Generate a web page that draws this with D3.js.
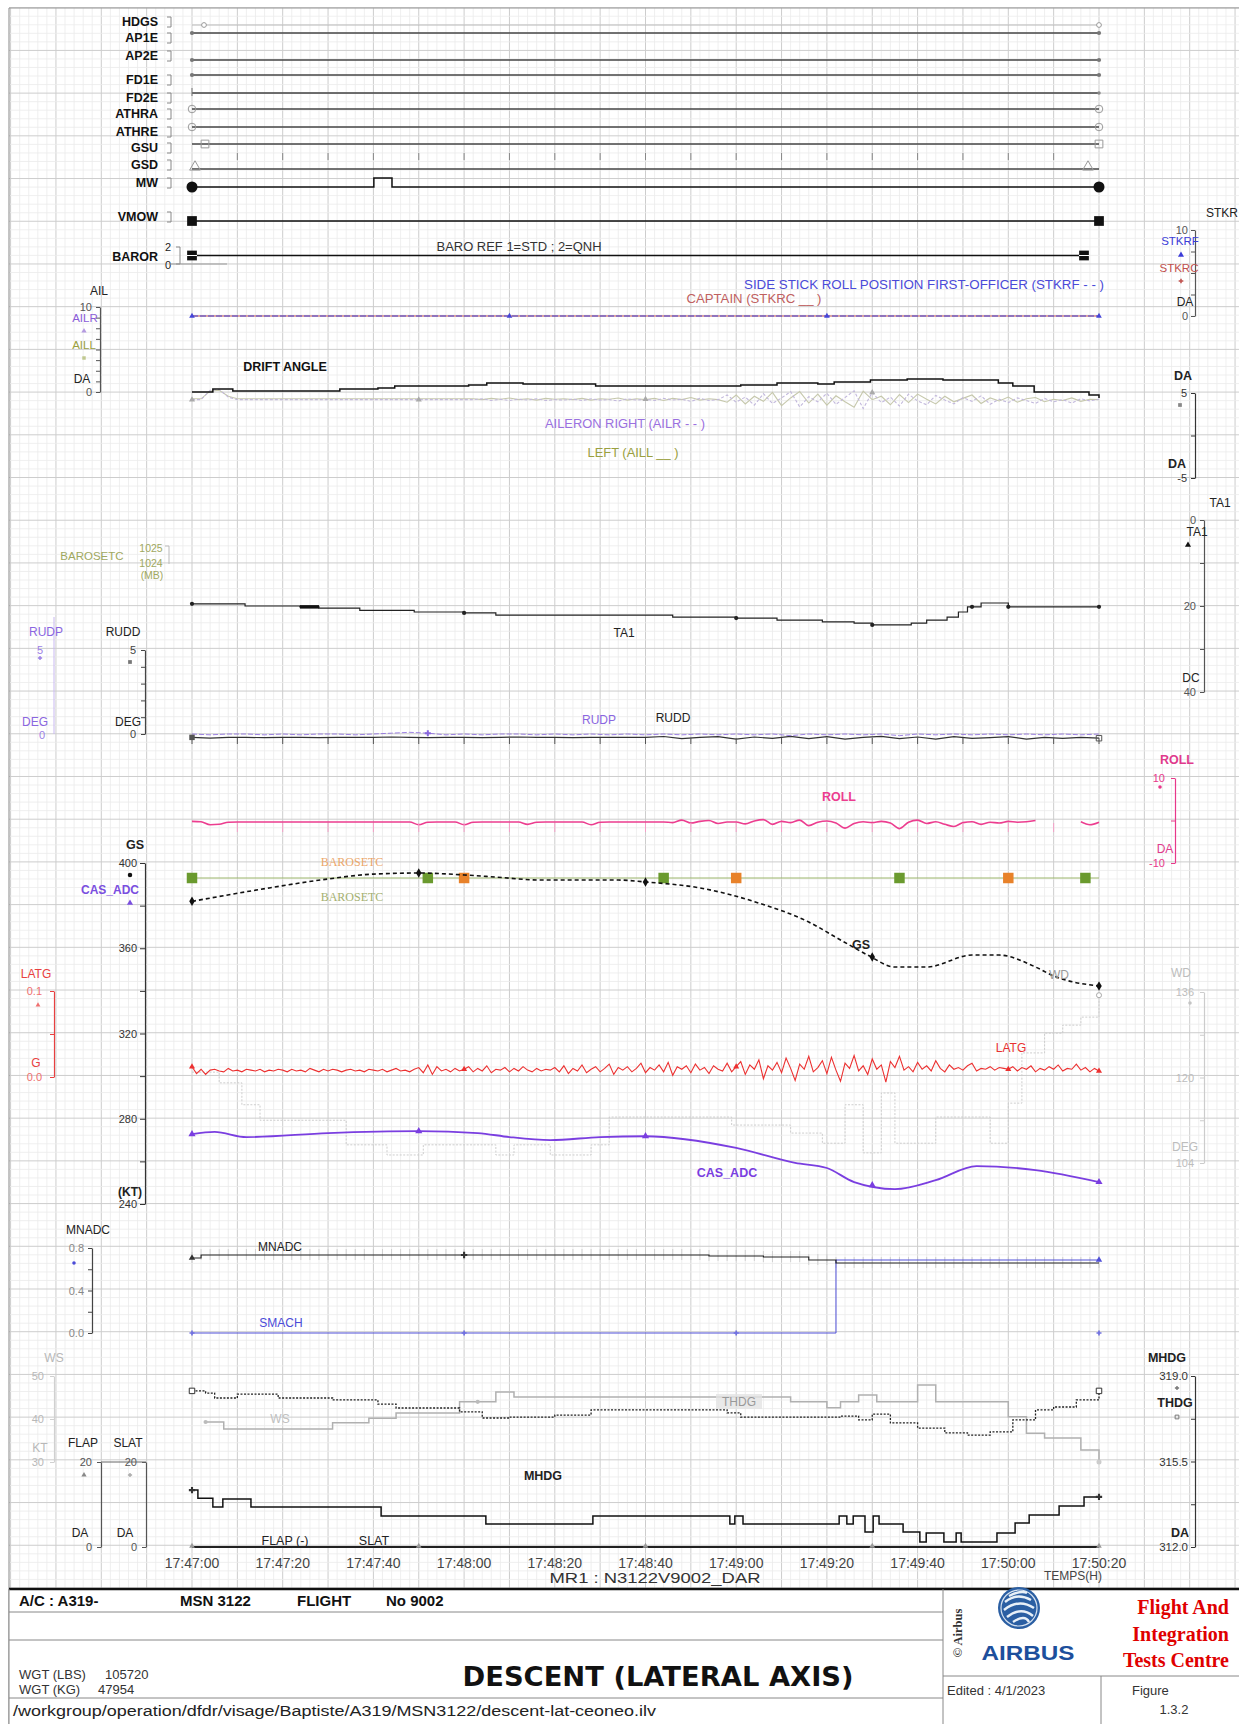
<!DOCTYPE html>
<html>
<head>
<meta charset="utf-8">
<script src="https://cdn.jsdelivr.net/npm/d3@7"></script>
<style>
  body { margin: 0; background: #fff; }
</style>
</head>
<body>
<svg id="chart" width="1239" height="1724"></svg>
<script>
// ---------------- time base ----------------
const timeTickSeconds = [0, 20, 40, 60, 80, 100, 120, 140, 160, 180, 200];
const timeTickLabels = ["17:47:00","17:47:20","17:47:40","17:48:00","17:48:20","17:48:40",
                        "17:49:00","17:49:20","17:49:40","17:50:00","17:50:20"];

// ---------------- discrete parameters ----------------
const discreteNames  = ["HDGS","AP1E","AP2E","FD1E","FD2E","ATHRA","ATHRE","GSU","GSD","MW","VMOW","BAROR"];
const discreteStates = [0, 0, 0, 0, 0, 0, 0, 0, 0, 0, 0, 1];
const mwTimes  = [0, 40.1, 44.1, 200];
const mwStates = [0, 1, 0, 0];

// ---------------- side stick / ailerons / drift ----------------
const stkrfDeg = [0, 0];
const stkrcDeg = [0, 0];
const stkTimes = [0, 200];

const ailStep = 2; // s between aileron samples
const ailrDeg = [-0.9,-0.9,0.2,0.3,-0.6,
  -0.9,-0.9,-0.9,-0.9,-0.9,-0.9,-0.9,-0.9,-0.9,-0.9,
  -0.9,-0.9,-0.9,-0.9,-0.9,-0.9,-0.9,-0.9,-0.9,-0.9,
  -0.9,-0.9,-0.9,-0.9,-0.9,-0.9,-0.9,
  -0.8,-1.0,-0.85,-1.0,-0.85,-0.95,-0.8,-1.0,-0.9,-0.95,
  -0.85,-1.0,-0.8,-0.95,-0.9,-1.05,-0.8,-0.95,-0.85,-1.0,
  -0.75,-0.95,-0.85,-1.1,-0.75,-1.0,-0.9,
  -0.35,-1.2,-0.6,-1.55,-0.2,-1.35,-0.7,0.05,-1.75,-0.55,
  -1.15,-0.15,-1.45,-0.65,0.15,-1.95,-0.05,-1.25,-0.6,-1.65,
  -0.25,-1.05,-1.5,-0.4,-0.95,-1.4,-0.65,-1.1,-0.45,-1.45,
  -0.85,-1.25,-0.7,-1.0,-1.35,-0.75,-1.15,-0.9,-1.3,-0.8,
  -1.05,-0.85];
const aillDeg = [-0.8,-0.8,0.1,0.2,-0.5,
  -0.8,-0.8,-0.8,-0.8,-0.8,-0.8,-0.8,-0.8,-0.8,-0.8,
  -0.8,-0.8,-0.8,-0.8,-0.8,-0.8,-0.8,-0.8,-0.8,-0.8,
  -0.8,-0.8,-0.8,-0.8,-0.8,-0.8,-0.8,
  -0.9,-0.75,-0.85,-0.7,-0.9,-0.8,-0.95,-0.75,-0.85,-0.8,
  -0.9,-0.75,-0.95,-0.8,-0.85,-0.7,-0.95,-0.8,-0.9,-0.75,
  -1.0,-0.75,-0.9,-0.65,-0.95,-0.8,-0.9,
  -1.2,-0.35,-1.4,-0.5,-1.1,-0.05,-1.6,-0.7,0.05,-1.3,
  -0.25,-1.55,-0.45,-1.15,-1.8,0.1,-0.9,-0.5,-1.5,-0.3,
  -1.25,-0.25,-0.85,-1.4,-0.5,-1.15,-0.75,-0.35,-1.35,-0.7,
  -1.05,-0.6,-1.2,-0.8,-0.65,-1.15,-0.85,-1.0,-0.7,-1.1,
  -0.85,-0.9];

const driftTimes = [0,4.6,9,32.6,41,44.7,61,65,73,89,121,129,138,141.6,149.6,157.7,165.6,177.8,181,185.7,197.8,200];
const driftDeg   = [5.12,5.47,5.24,5.47,5.59,5.82,5.94,6.18,6.06,5.82,5.94,6.18,6.06,6.29,6.53,6.65,6.53,6.18,5.82,5.12,4.76,4.41];

// ---------------- temperature / baro setting ----------------
const ta1Times = [0,11.7,23.8,28,37,49,60,67,106,120,129,139,146,150,155,158.6,162,166.5,169,171,174,180,200];
const ta1Deg   = [19.5,20.0,20.2,20.5,21.0,21.4,21.6,22.1,22.6,22.8,23.3,23.7,24.0,24.4,24.4,24.0,23.3,22.6,21.4,20.2,19.3,20.2,20.2];

const baroSetting = 1003;                 // mb, held during the run
const baroSampleTimesC = [0, 52, 104, 156, 197];
const baroSampleTimesF = [60, 120, 180];

// ---------------- rudder ----------------
const rudStep = 4;
const ruddDeg = [-0.2,-0.25,-0.2,-0.2,-0.22,-0.2,-0.2,-0.22,-0.2,-0.2,
  -0.2,-0.18,-0.2,-0.22,-0.2,-0.2,-0.22,-0.2,-0.18,-0.2,
  -0.2,-0.22,-0.2,-0.2,-0.2,-0.2,-0.15,-0.28,-0.2,-0.16,
  -0.3,-0.18,-0.26,-0.14,-0.28,-0.16,-0.3,-0.2,-0.14,-0.28,
  -0.18,-0.3,-0.16,-0.26,-0.22,-0.16,-0.3,-0.2,-0.26,-0.2,
  -0.25];
const rudpDeg = [0.0,-0.05,0.0,0.0,-0.05,0.0,-0.05,0.0,0.0,-0.05,
  0.0,0.05,0.1,0.05,-0.05,0.0,-0.05,0.0,0.0,-0.05,
  0.0,-0.05,0.0,-0.05,0.0,-0.05,0.0,-0.05,0.0,-0.05,
  0.0,-0.05,0.0,-0.1,0.0,-0.05,0.0,-0.05,0.0,-0.1,
  0.0,-0.05,0.0,-0.05,0.0,-0.05,0.0,-0.05,0.0,-0.05,
  0.0];

// ---------------- roll ----------------
const rollStep = 2;
const rollDeg = [-0.2,-0.3,-1.0,-0.9,-0.4,
  -0.35,-0.35,-0.35,-0.35,-0.35,-0.35,-0.35,-0.35,-0.35,-0.35,
  -0.35,-0.35,-0.35,-0.35,-0.35,-0.35,-0.35,-0.35,-0.35,-0.35,
  -1.0,-0.4,-0.35,-0.35,-0.35,-1.0,-0.4,
  -0.35,-0.35,-0.35,-0.35,-0.35,-0.9,-0.4,
  -0.35,-0.35,-0.35,-0.35,-0.35,-1.0,-0.4,
  -0.35,-0.35,-0.35,-0.35,-0.35,-0.35,-0.35,
  -0.5,0.1,-0.6,-0.2,0.0,-0.7,-0.35,-0.35,-0.8,-0.1,
  0.2,-0.9,-0.2,-0.5,0.1,-1.2,-0.4,-0.1,-0.6,-1.8,
  -0.7,-0.3,-0.5,-0.2,-0.6,-1.9,-0.4,0.1,-0.7,-0.3,
  -0.9,-1.4,-0.5,-0.3,-0.9,-0.4,-0.6,-0.2,-0.4,-0.3,
  0.0,null,null,null,null,-0.3,-1.0,-0.4];

// ---------------- speeds ----------------
const gsTimes = [0,17,30,40,50,60,67,77,94,100,112,125,136,143,149,155,162,172,178,186,190,200];
const gsKnots = [382,388.3,392.5,394.8,395.3,394.4,393.4,392,392,391.1,388.3,381.2,372.3,363.9,356.8,351.2,351.2,356.8,356.8,351.2,347,342.3];

const casTimes = [0,5,12,30,50,63,70,79,90,100,120,133,140,146,155,164,173,186,200];
const casKnots = [272.8,273.8,271.4,273.3,274.2,273.3,271.4,270,271.4,271.8,266.3,259.3,256.9,250.3,247,251.2,257.8,255.9,250.3];

// lateral load factor, milli-g, one sample per second
const latgMilliG = [
  12,4,9,3,8,9,7,6,10,7,8,6,9,8,7,9,6,8,7,9,
  8,6,9,7,8,6,10,8,6,9,7,9,8,6,8,9,7,8,6,9,
  8,7,9,6,8,10,7,8,6,9,11,5,14,3,12,7,9,6,10,7,
  9,12,6,10,7,13,5,9,8,11,6,10,7,12,8,6,10,7,9,8,
  11,6,13,4,10,7,14,5,9,12,6,10,15,3,11,8,12,6,10,16,
  5,11,8,14,6,17,2,12,9,13,5,15,8,11,4,13,9,7,16,6,
  12,18,3,14,9,20,-2,13,8,17,5,22,10,-4,15,9,24,6,11,19,
  4,23,8,-5,16,10,25,7,13,3,21,9,14,-6,18,11,24,8,12,6,
  17,9,13,7,19,10,6,14,9,11,8,13,16,7,10,9,12,8,11,10,
  9,12,7,11,9,13,6,10,8,12,9,14,7,10,9,15,8,11,6,10,7];

const wdTimes = [0,6,11,15,34,43,51,67,71,79,88,92,111,119,132,139,144,148,152,155,164,173,176,180,183,188,192,196,200];
const wdDeg   = [121,119,114.9,112,107.4,105.5,107.4,105.5,107.4,105.5,107.4,112.6,112.6,111.1,109.6,107.7,114.9,105.9,117.1,107.7,112.6,112.6,107.7,115.2,124.6,128.3,129.8,131.3,135.4];

// ---------------- mach ----------------
const mnadcTimes = [0,2,114,126,136,142,200];
const mnadcMach  = [0.706,0.734,0.725,0.715,0.687,0.659,0.659];
const smachTimes = [0,142,200];
const smachMach  = [0,0.687,0.687];

// ---------------- wind speed / headings / high lift ----------------
const wsTimes = [3,7,31,39,45,59,67,71,132,140,143,147,151,160,164,176,180,184,188,196,200];
const wsKnots = [39.3,37.7,39.1,40.2,41.4,44.0,46.3,45.1,44.0,42.6,44.0,45.6,44.0,47.9,44.0,44.0,40.5,36.7,35.6,32.8,30.0];

const thdgTimes = [0,3,5,10,19,31,41,45,59,64,70,80,88,94,118,121,143,147,150,154,160,166,171,176,181,186,190,195,200];
const thdgDeg   = [318.39,318.3,318.1,318.26,318.1,318.02,317.85,317.69,317.53,317.28,317.32,317.4,317.61,317.61,317.49,317.32,317.36,317.2,317.44,317.08,316.87,316.67,316.58,316.71,317.2,317.61,317.73,318.02,318.39];

const mhdgTimes = [0,1.3,4.6,6.8,13,41.7,64.8,88.4,118.6,119.7,121.5,142.7,144.4,145.8,148.4,150.2,151.5,156.8,160.5,161.9,165.8,168.5,169.6,177.5,181.5,184.6,191.2,196.7,200];
const mhdgDeg   = [314.33,314.0,313.64,313.97,313.64,313.27,312.94,313.27,312.94,313.27,312.94,313.27,312.94,313.27,312.61,313.27,312.94,312.61,312.2,312.57,312.2,312.57,312.2,312.57,312.98,313.31,313.68,314.05,314.05];

const flapTimes = [0, 200];
const flapDeg = [0, 0];
const slatDeg = [0, 0];

// ---------------- drawing ----------------
const FONT = '"Liberation Sans", Arial, sans-serif';
const svg = d3.select("#chart");
const x = d3.scaleLinear().domain([0, 200]).range([192, 1099]);

function label(xp, yp, s, o = {}) {
  const t = svg.append("text")
    .attr("x", xp).attr("y", yp).attr("dy", "0.35em")
    .attr("text-anchor", o.anchor || "middle")
    .attr("font-size", o.size || 11)
    .attr("font-weight", o.weight || "normal")
    .attr("fill", o.fill || "#222")
    .attr("font-family", o.family || FONT)
    .text(s);
  if (o.len) t.attr("textLength", o.len).attr("lengthAdjust", "spacingAndGlyphs");
  return t;
}

function series(times, vals, yScale, o = {}) {
  const pts = d3.zip(times, vals);
  const line = d3.line()
    .defined(d => d[1] !== null)
    .x(d => x(d[0])).y(d => yScale(d[1]))
    .curve(o.curve || d3.curveLinear);
  svg.append("path").datum(pts)
    .attr("d", line)
    .attr("fill", "none")
    .attr("stroke", o.color || "#000")
    .attr("stroke-width", o.width || 1.2)
    .attr("stroke-dasharray", o.dash || null)
    .attr("opacity", o.opacity || 1);
}

function marker(type, xp, yp, o = {}) {
  svg.append("path")
    .attr("d", d3.symbol().type(type).size(o.size || 20)())
    .attr("transform", `translate(${xp},${yp})`)
    .attr("fill", o.fill === undefined ? "#000" : o.fill)
    .attr("stroke", o.stroke || "none")
    .attr("stroke-width", o.sw || 1);
}

function vAxis(xPos, scale, ticks, fmt, color, o = {}) {
  const g = svg.append("g")
    .attr("transform", `translate(${xPos},0)`)
    .attr("font-family", FONT)
    .call(d3.axisLeft(scale).tickValues(ticks).tickFormat(fmt)
      .tickSize(o.tick || 4).tickSizeOuter(0).tickPadding(o.pad || 2));
  g.select(".domain").attr("stroke", color).attr("stroke-width", o.width || 1.2);
  g.selectAll(".tick line").attr("stroke", color);
  g.selectAll(".tick text").attr("fill", o.textColor || color).attr("font-size", o.size || 11);
  return g;
}

// ---- background grid (10 s major columns, 2 s minor) ----
const grid = svg.append("g");
const gridTop = 7.7, gridBottom = 1588, rowMajor = 42.71;
d3.range(-40, 232, 2).forEach(t => {
  const major = t % 10 === 0;
  grid.append("line").attr("x1", x(t)).attr("x2", x(t))
    .attr("y1", gridTop).attr("y2", gridBottom)
    .attr("stroke", major ? "#cdcdcd" : "#ebebeb").attr("stroke-width", major ? 1 : 0.8);
});
d3.range(0, 186).forEach(i => {
  const yy = gridTop + i * rowMajor / 5;
  const major = i % 5 === 0;
  grid.append("line").attr("x1", 9).attr("x2", 1239)
    .attr("y1", yy).attr("y2", yy)
    .attr("stroke", major ? "#cdcdcd" : "#ebebeb").attr("stroke-width", major ? 1 : 0.8);
});
// frame
svg.append("line").attr("x1", 9).attr("x2", 1239).attr("y1", 8).attr("y2", 8).attr("stroke", "#999");
svg.append("line").attr("x1", 9).attr("x2", 9).attr("y1", 8).attr("y2", 1724).attr("stroke", "#888");

// ---- discrete lanes ----
const laneBase  = [25, 33, 60, 75, 93, 109, 127, 144, 169, 187, 221, 264];
const laneLabel = [22, 38, 56, 80, 98, 114, 132, 148, 165, 183, 217, 257];
discreteNames.forEach((name, i) => {
  const span = name === "BAROR" ? 2 : 1;
  const yLane = d3.scaleLinear().domain([0, span]).range([laneBase[i], laneBase[i] - (name === "BAROR" ? 17 : 9)]);
  const isMW = name === "MW";
  const times = isMW ? mwTimes : [0, 200];
  const vals = isMW ? mwStates : [discreteStates[i], discreteStates[i]];
  const heavy = ["MW", "VMOW", "BAROR"].includes(name);
  const endT = name === "BAROR" ? 197 : 200;
  series(isMW ? times : [0, endT], vals, yLane, {
    curve: d3.curveStepAfter,
    color: name === "HDGS" ? "#aaa" : (heavy ? "#111" : "#444"),
    width: name === "HDGS" ? 0.8 : (heavy ? 1.5 : 1.6)
  });
  label(158, laneLabel[i], name, { anchor: "end", size: 12.5, weight: "bold", fill: "#111" });
  if (name !== "BAROR") {
    svg.append("path").attr("d", `M167,${laneLabel[i] - 5}H171V${laneLabel[i] + 5}H167`)
      .attr("fill", "none").attr("stroke", "#888").attr("stroke-width", 1);
  }
  const yl = yLane(discreteStates[i]);
  const x0 = x(0), x1 = x(endT);
  switch (name) {
    case "HDGS":
      marker(d3.symbolCircle, 204, yl, { size: 18, fill: "#fff", stroke: "#999" });
      marker(d3.symbolCircle, x1, yl, { size: 18, fill: "#fff", stroke: "#999" }); break;
    case "AP1E": case "AP2E": case "FD1E":
      marker(d3.symbolCircle, x0, yl, { size: 14, fill: "#777" });
      marker(d3.symbolCircle, x1, yl, { size: 14, fill: "#777" }); break;
    case "FD2E":
      svg.append("line").attr("x1", x0).attr("x2", x0).attr("y1", yl - 5).attr("y2", yl + 3).attr("stroke", "#777");
      marker(d3.symbolCircle, x1, yl, { size: 10, fill: "#888" }); break;
    case "ATHRA": case "ATHRE":
      marker(d3.symbolCircle, x0, yl, { size: 45, fill: "none", stroke: "#999" });
      marker(d3.symbolCircle, x1, yl, { size: 45, fill: "none", stroke: "#999" }); break;
    case "GSU":
      marker(d3.symbolSquare, 205, yl, { size: 60, fill: "none", stroke: "#999" });
      marker(d3.symbolSquare, x1, yl, { size: 60, fill: "none", stroke: "#999" }); break;
    case "GSD":
      marker(d3.symbolTriangle, 195, yl - 2, { size: 50, fill: "none", stroke: "#999" });
      marker(d3.symbolTriangle, 1088, yl - 2, { size: 50, fill: "none", stroke: "#999" }); break;
    case "MW":
      marker(d3.symbolCircle, x0, yl, { size: 95, fill: "#111" });
      marker(d3.symbolCircle, x1, yl, { size: 95, fill: "#111" }); break;
    case "VMOW":
      marker(d3.symbolSquare, x0, yl, { size: 95, fill: "#111" });
      marker(d3.symbolSquare, x1, yl, { size: 95, fill: "#111" }); break;
    case "BAROR":
      [x0, 1084].forEach(xx => {
        marker(d3.symbolSquare, xx, yl, { size: 95, fill: "#111" });
        svg.append("line").attr("x1", xx - 5).attr("x2", xx + 5).attr("y1", yl).attr("y2", yl).attr("stroke", "#fff").attr("stroke-width", 1);
      });
      label(168, 247, "2", { size: 11 });
      label(168, 265, "0", { size: 11 });
      svg.append("path").attr("d", "M176,247H180V264H176").attr("fill", "none").attr("stroke", "#888");
      svg.append("line").attr("x1", 170).attr("x2", 227).attr("y1", 264).attr("y2", 264).attr("stroke", "#999");
      break;
  }
});
// time marks in the discrete block
d3.range(10, 200, 10).forEach(t => {
  svg.append("line").attr("x1", x(t)).attr("x2", x(t)).attr("y1", 153).attr("y2", 160).attr("stroke", "#888");
});
label(519, 247, "BARO REF 1=STD ; 2=QNH", { size: 12.5, fill: "#333", len: 165 });

// ---- side stick roll ----
const ySTKR = d3.scaleLinear().domain([0, 10]).range([316, 230]);
vAxis(1195, ySTKR, d3.range(0, 10.01, 2.5), d => (d === 0 || d === 10) ? d : "", "#555", { pad: 3 });
label(1222, 213, "STKR", { size: 12 });
label(1180, 241, "STKRF", { size: 11.5, fill: "#3c3cd8" });
marker(d3.symbolTriangle, 1181, 255, { size: 16, fill: "#3c3cd8" });
label(1179, 268, "STKRC", { size: 11.5, fill: "#c0504d" });
marker(d3.symbolCross, 1181, 281, { size: 12, fill: "#c0504d" });
label(1185, 302, "DA", { size: 12 });
series(stkTimes, stkrcDeg, ySTKR, { color: "#c0504d", width: 1.2 });
series(stkTimes, stkrfDeg, ySTKR, { color: "#4545d8", width: 1.2, dash: "6,2" });
[0, 70, 140, 200].forEach(t => marker(d3.symbolTriangle, x(t), ySTKR(0), { size: 14, fill: "#4545d8" }));
label(924, 285, "SIDE STICK ROLL POSITION FIRST-OFFICER (STKRF - - )", { size: 12, fill: "#4a4ad8", len: 360 });
label(754, 299, "CAPTAIN (STKRC __ )", { size: 12, fill: "#c06060", len: 135 });

// ---- ailerons (left axis) ----
const yAIL = d3.scaleLinear().domain([0, 10]).range([392, 307]);
vAxis(100, yAIL, d3.range(0, 10.01, 1.25), d => (d === 0 || d === 10) ? d : "", "#555", { pad: 4 });
label(99, 291, "AIL", { size: 12 });
label(85, 318, "AILR", { size: 11.5, fill: "#8a5cd8" });
marker(d3.symbolTriangle, 84, 331, { size: 12, fill: "#b49ae0" });
label(84, 345, "AILL", { size: 11.5, fill: "#9aa040" });
marker(d3.symbolSquare, 84, 358, { size: 12, fill: "#c0c890" });
label(82, 379, "DA", { size: 12 });
const ailTimes = d3.range(ailrDeg.length).map(i => i * ailStep);
series(ailTimes, aillDeg, yAIL, { color: "#c6c8ac", width: 1.1 });
series(ailTimes, ailrDeg, yAIL, { color: "#c2b8dc", width: 1.1, dash: "3,2" });
[0, 50, 100, 150].forEach(t => marker(d3.symbolTriangle, x(t), yAIL(ailrDeg[t / ailStep]), { size: 16, fill: "#aaa" }));
label(625, 424, "AILERON RIGHT (AILR - - )", { size: 12, fill: "#9a70e0", len: 160 });
label(633, 453, "LEFT (AILL __ )", { size: 12, fill: "#9aa040", len: 91 });

// ---- drift angle (right axis) ----
const yDA = d3.scaleLinear().domain([-5, 5]).range([478, 393]);
vAxis(1195, yDA, [-5, 0, 5], d => d === 0 ? "" : d, "#333", { pad: 4, size: 11 });
label(1183, 376, "DA", { size: 12.5, weight: "bold" });
marker(d3.symbolSquare, 1180, 405, { size: 14, fill: "#888" });
label(1177, 464, "DA", { size: 12.5, weight: "bold" });
series(driftTimes, driftDeg, yDA, { curve: d3.curveStepAfter, color: "#111", width: 1.5 });
label(285, 367, "DRIFT ANGLE", { size: 12.5, weight: "bold", fill: "#111" });

// ---- total air temperature (right axis) ----
const yTA1 = d3.scaleLinear().domain([0, 40]).range([520, 692]);
vAxis(1204, yTA1, [0, 10, 20, 30, 40], d => d % 20 === 0 ? d : "", "#555", { pad: 4 });
label(1220, 503, "TA1", { size: 12 });
label(1197, 532, "TA1", { size: 12 });
marker(d3.symbolTriangle, 1188, 545, { size: 16, fill: "#111" });
label(1191, 678, "DC", { size: 12 });
series(ta1Times, ta1Deg, yTA1, { curve: d3.curveStepAfter, color: "#222", width: 1.2 });
svg.append("line").attr("x1", x(23.8)).attr("x2", x(28)).attr("y1", yTA1(20.2)).attr("y2", yTA1(20.2))
  .attr("stroke", "#111").attr("stroke-width", 3.5);
[0, 60, 120, 150, 172, 180, 200].forEach(t => {
  const i = d3.bisectRight(ta1Times, t) - 1;
  marker(d3.symbolCircle, x(t), yTA1(ta1Deg[Math.max(0, i)]), { size: 14, fill: "#222" });
});
label(624, 633, "TA1", { size: 12 });

// ---- baro setting (left small scale) ----
const yBaro = d3.scaleLinear().domain([1024, 1025]).range([563, 548]);
label(92, 556, "BAROSETC", { size: 11.5, fill: "#a0a860" });
label(151, 548, "1025", { size: 10.5, fill: "#a0a860" });
label(151, 563, "1024", { size: 10.5, fill: "#a0a860" });
label(152, 575, "(MB)", { size: 10.5, fill: "#a0a860" });
svg.append("path").attr("d", "M165,546H169V564").attr("fill", "none").attr("stroke", "#bbb");

// ---- rudder ----
const yRUD = d3.scaleLinear().domain([0, 5]).range([734, 650]);
vAxis(145, yRUD, d3.range(0, 5.01, 1), d => (d === 0 || d === 5) ? d : "", "#444", { pad: 5 });
svg.append("line").attr("x1", 54).attr("x2", 54).attr("y1", 617).attr("y2", 734).attr("stroke", "#c8b8f0");
label(46, 632, "RUDP", { size: 12, fill: "#8a66e0" });
label(123, 632, "RUDD", { size: 12 });
label(40, 650, "5", { size: 11, fill: "#9b7fe6" });
marker(d3.symbolCross, 40, 658, { size: 10, fill: "#9b7fe6" });
marker(d3.symbolSquare, 130, 662, { size: 14, fill: "#777" });
label(35, 722, "DEG", { size: 12, fill: "#8a66e0" });
label(128, 722, "DEG", { size: 12 });
label(42, 735, "0", { size: 11, fill: "#9b7fe6" });
const rudTimes = d3.range(ruddDeg.length).map(i => i * rudStep);
series(rudTimes, ruddDeg, yRUD, { color: "#333", width: 1.2 });
series(rudTimes, rudpDeg, yRUD, { color: "#8866dd", width: 1, dash: "5,2", opacity: 0.8 });
d3.range(0, 201, 10).forEach(t => {
  svg.append("line").attr("x1", x(t)).attr("x2", x(t)).attr("y1", 738).attr("y2", 744).attr("stroke", "#555");
});
marker(d3.symbolSquare, x(0), yRUD(ruddDeg[0]), { size: 30, fill: "#555" });
marker(d3.symbolSquare, x(200), yRUD(ruddDeg[50]), { size: 30, fill: "none", stroke: "#555" });
marker(d3.symbolCross, x(52), yRUD(rudpDeg[13]), { size: 20, fill: "#8866dd" });
label(599, 720, "RUDP", { size: 12, fill: "#8a66e0" });
label(673, 718, "RUDD", { size: 12 });

// ---- roll (right axis) ----
const yRoll = d3.scaleLinear().domain([-10, 10]).range([863, 778]);
vAxis(1175, yRoll, [-10, 0, 10], d => d === 0 ? "" : d, "#e8388a", { pad: 6 });
label(1177, 760, "ROLL", { size: 12.5, weight: "bold", fill: "#e03a8c" });
marker(d3.symbolCircle, 1160, 787, { size: 10, fill: "#e8388a" });
label(1165, 849, "DA", { size: 12, fill: "#e03a8c" });
const rollTimes = d3.range(rollDeg.length).map(i => i * rollStep);
series(rollTimes, rollDeg, yRoll, { color: "#ec3d8f", width: 1.6, curve: d3.curveMonotoneX });
d3.range(10, 200, 10).forEach(t => {
  svg.append("line").attr("x1", x(t)).attr("x2", x(t)).attr("y1", 823).attr("y2", 832).attr("stroke", "#f5a0c8");
});
label(839, 797, "ROLL", { size: 12.5, weight: "bold", fill: "#ec3d8f" });

// ---- ground speed / calibrated airspeed ----
const yGS = d3.scaleLinear().domain([240, 400]).range([1204, 863]);
vAxis(145, yGS, d3.range(240, 401, 20), d => d % 40 === 0 ? d : "", "#333", { pad: 3, tick: 5 });
label(135, 845, "GS", { size: 12.5, weight: "bold" });
marker(d3.symbolCircle, 130, 875, { size: 16, fill: "#111" });
label(110, 890, "CAS_ADC", { size: 12, weight: "bold", fill: "#7a4ee0" });
marker(d3.symbolTriangle, 130, 903, { size: 16, fill: "#7a4ee0" });
label(130, 1192, "(KT)", { size: 12, weight: "bold" });

// baro setting samples on the common green trace
svg.append("line").attr("x1", x(0)).attr("x2", x(200)).attr("y1", yBaro(baroSetting)).attr("y2", yBaro(baroSetting))
  .attr("stroke", "#9bb56a").attr("stroke-width", 1);
baroSampleTimesC.forEach(t => marker(d3.symbolSquare, x(t), yBaro(baroSetting), { size: 110, fill: "#6a9a2e" }));
baroSampleTimesF.forEach(t => marker(d3.symbolSquare, x(t), yBaro(baroSetting), { size: 110, fill: "#e8822a" }));
label(352, 862, "BAROSETC", { size: 12, fill: "#eba66a", family: '"Liberation Serif", serif' });
label(352, 897, "BAROSETC", { size: 12, fill: "#a4b070", family: '"Liberation Serif", serif' });

// wind direction (right axis, light grey)
const yWD = d3.scaleLinear().domain([104, 136]).range([1163, 992]);
vAxis(1204, yWD, [104, 112, 120, 128, 136], d => d % 16 === 8 ? d : "", "#cccccc", { pad: 6, textColor: "#bdbdbd" });
label(1181, 973, "WD", { size: 12, fill: "#bdbdbd" });
marker(d3.symbolCircle, 1190, 1003, { size: 10, fill: "#c4c4c4" });
label(1185, 1147, "DEG", { size: 12, fill: "#bdbdbd" });
series(wdTimes, wdDeg, yWD, { curve: d3.curveStepAfter, color: "#cdcdcd", width: 1, dash: "2,1.5" });
marker(d3.symbolCircle, x(200), yWD(wdDeg[wdDeg.length - 1]), { size: 20, fill: "#fff", stroke: "#aaa" });

series(casTimes, casKnots, yGS, { curve: d3.curveMonotoneX, color: "#7a3ee0", width: 1.8 });
[0, 50, 100, 150, 200].forEach(t => {
  const v = d3.scaleLinear().domain(casTimes).range(casKnots)(t);
  marker(d3.symbolTriangle, x(t), yGS(v), { size: 22, fill: "#7a3ee0" });
});
series(gsTimes, gsKnots, yGS, { curve: d3.curveMonotoneX, color: "#111", width: 1.6, dash: "4,3" });
[0, 50, 100, 150, 200].forEach(t => {
  const v = d3.scaleLinear().domain(gsTimes).range(gsKnots)(t);
  marker(d3.symbolDiamond, x(t), yGS(v), { size: 26, fill: "#111" });
});
label(861, 945, "GS", { size: 12.5, weight: "bold" });
label(1059, 975, "WD", { size: 12, fill: "#999" });
label(727, 1173, "CAS_ADC", { size: 12.5, weight: "bold", fill: "#7a3ee0" });

// lateral load factor (left axis)
const yLatg = d3.scaleLinear().domain([0, 100]).range([1077, 991]);
vAxis(54, yLatg, [0, 50, 100], d => d === 50 ? "" : (d / 1000).toFixed(1), "#e84040", { pad: 8, textColor: "#f07070" });
label(36, 974, "LATG", { size: 12, fill: "#e84040" });
marker(d3.symbolTriangle, 38, 1005, { size: 10, fill: "#f07070" });
label(36, 1063, "G", { size: 12, fill: "#e84040" });
const latgTimes = d3.range(latgMilliG.length);
series(latgTimes, latgMilliG, yLatg, { color: "#ec3030", width: 1.1 });
[0, 60, 120, 180, 200].forEach(t => marker(d3.symbolTriangle, x(t), yLatg(latgMilliG[t]), { size: 16, fill: "#ec3030" }));
label(1011, 1048, "LATG", { size: 12, fill: "#e83030" });

// ---- Mach ----
const yMach = d3.scaleLinear().domain([0, 0.8]).range([1333, 1248]);
vAxis(92, yMach, [0, 0.2, 0.4, 0.6, 0.8], d => (d * 10) % 4 === 0 ? d.toFixed(1) : "", "#444", { pad: 4, textColor: "#888" });
label(88, 1230, "MNADC", { size: 12 });
marker(d3.symbolCircle, 74, 1263, { size: 10, fill: "#4b4bd8" });
d3.range(0, 201, 2).forEach(t => {
  const i = d3.bisectRight(mnadcTimes, t) - 1;
  const yy = yMach(mnadcMach[Math.max(0, i)]);
  svg.append("line").attr("x1", x(t)).attr("x2", x(t)).attr("y1", yy - 6).attr("y2", yy + 5).attr("stroke", "#c8c8c8").attr("stroke-width", 0.8);
});
series(smachTimes, smachMach, yMach, { curve: d3.curveStepAfter, color: "#5050d8", width: 1 });
series(mnadcTimes, mnadcMach, yMach, { curve: d3.curveStepAfter, color: "#222", width: 1.1 });
[0, 60, 120, 200].forEach(t => marker(d3.symbolCross, x(t), yMach(0), { size: 14, fill: "#7070e0" }));
marker(d3.symbolTriangle, x(0), yMach(mnadcMach[0]), { size: 18, fill: "#333" });
marker(d3.symbolCross, x(60), yMach(mnadcMach[1]), { size: 22, fill: "#333" });
marker(d3.symbolTriangle, x(200), yMach(smachMach[2]), { size: 18, fill: "#5050d8" });
label(280, 1247, "MNADC", { size: 12 });
label(281, 1323, "SMACH", { size: 12, fill: "#4b4bd8" });

// ---- wind speed (left axis, grey) ----
const yWS = d3.scaleLinear().domain([30, 50]).range([1462, 1376]);
vAxis(54, yWS, [30, 40, 50], d => d, "#d0d0d0", { pad: 6, textColor: "#b8b8b8" });
label(54, 1358, "WS", { size: 12, fill: "#b8b8b8" });
label(40, 1448, "KT", { size: 12, fill: "#b8b8b8" });
series(wsTimes, wsKnots, yWS, { curve: d3.curveStepAfter, color: "#b0b0b0", width: 1.5 });
marker(d3.symbolCircle, x(wsTimes[0]), yWS(wsKnots[0]), { size: 14, fill: "#bbb" });
marker(d3.symbolCircle, x(63), yWS(44.0), { size: 14, fill: "#bbb" });
marker(d3.symbolCircle, x(200), yWS(wsKnots[wsKnots.length - 1]), { size: 20, fill: "#ccc" });
label(280, 1419, "WS", { size: 12, fill: "#c0c0c0" });

// ---- headings (right axis) ----
const yHdg = d3.scaleLinear().domain([312, 319]).range([1547, 1376]);
vAxis(1195, yHdg, [312, 313.75, 315.5, 317.25, 319], d => (d === 312 || d === 315.5 || d === 319) ? d.toFixed(1) : "", "#333", { pad: 3, size: 11.5 });
label(1167, 1358, "MHDG", { size: 12.5, weight: "bold" });
marker(d3.symbolCross, 1177, 1388, { size: 10, fill: "#777" });
label(1175, 1403, "THDG", { size: 12.5, weight: "bold" });
marker(d3.symbolSquare, 1177, 1417, { size: 14, fill: "none", stroke: "#777" });
label(1180, 1533, "DA", { size: 12.5, weight: "bold" });
series(thdgTimes, thdgDeg, yHdg, { curve: d3.curveStepAfter, color: "#222", width: 1.3, dash: "2,1.5" });
marker(d3.symbolSquare, x(0), yHdg(thdgDeg[0]), { size: 30, fill: "#fff", stroke: "#333" });
marker(d3.symbolSquare, x(200), yHdg(thdgDeg[thdgDeg.length - 1]), { size: 30, fill: "#fff", stroke: "#333" });
series(mhdgTimes, mhdgDeg, yHdg, { curve: d3.curveStepAfter, color: "#111", width: 1.5 });
marker(d3.symbolCross, x(0), yHdg(mhdgDeg[0]), { size: 22, fill: "#333" });
marker(d3.symbolCross, x(200), yHdg(mhdgDeg[mhdgDeg.length - 1]), { size: 22, fill: "#333" });
svg.append("rect").attr("x", 716).attr("y", 1394).attr("width", 46).attr("height", 15).attr("fill", "#e4e4e4").attr("opacity", 0.8);
label(739, 1402, "THDG", { size: 12, fill: "#999" });
label(543, 1476, "MHDG", { size: 12.5, weight: "bold" });

// ---- flap / slat ----
const yFlap = d3.scaleLinear().domain([0, 20]).range([1547, 1462]);
vAxis(101, yFlap, [0, 20], d => d, "#555", { pad: 5 });
vAxis(146, yFlap, [0, 20], d => d, "#555", { pad: 5 });
svg.append("line").attr("x1", 101).attr("x2", 146).attr("y1", 1462).attr("y2", 1462).attr("stroke", "#666");
label(83, 1443, "FLAP", { size: 12 });
label(128, 1443, "SLAT", { size: 12 });
marker(d3.symbolTriangle, 84, 1475, { size: 12, fill: "#888" });
marker(d3.symbolCross, 130, 1475, { size: 10, fill: "#aaa" });
label(80, 1533, "DA", { size: 12 });
label(125, 1533, "DA", { size: 12 });
series(flapTimes, slatDeg, yFlap, { color: "#444", width: 1.5 });
series(flapTimes, flapDeg, yFlap, { color: "#222", width: 2 });
[0, 50, 100, 150, 200].forEach(t => marker(d3.symbolTriangle, x(t), yFlap(0) - 1, { size: 14, fill: "#999" }));
label(285, 1541, "FLAP (-)", { size: 12.5 });
label(374, 1541, "SLAT", { size: 12.5 });

// ---- time axis ----
timeTickSeconds.forEach((t, i) => {
  label(x(t), 1563, timeTickLabels[i], { size: 14, fill: "#444" });
});
label(1073, 1576, "TEMPS(H)", { size: 12, fill: "#444" });
label(655, 1578, "MR1 : N3122V9002_DAR", { size: 14.5, fill: "#333", len: 211 });

// ---- title block ----
svg.append("rect").attr("x", 9).attr("y", 1589).attr("width", 1230).attr("height", 135).attr("fill", "#fff");
svg.append("line").attr("x1", 9).attr("x2", 1239).attr("y1", 1589).attr("y2", 1589).attr("stroke", "#111").attr("stroke-width", 2.5);
svg.append("line").attr("x1", 9).attr("x2", 9).attr("y1", 1589).attr("y2", 1724).attr("stroke", "#888");
[1612, 1640, 1698].forEach(yy =>
  svg.append("line").attr("x1", 9).attr("x2", 943).attr("y1", yy).attr("y2", yy).attr("stroke", "#888"));
svg.append("line").attr("x1", 943).attr("x2", 943).attr("y1", 1589).attr("y2", 1724).attr("stroke", "#888");
svg.append("line").attr("x1", 943).attr("x2", 1239).attr("y1", 1676).attr("y2", 1676).attr("stroke", "#888");
svg.append("line").attr("x1", 1101).attr("x2", 1101).attr("y1", 1676).attr("y2", 1724).attr("stroke", "#888");

label(19, 1601, "A/C : A319-", { anchor: "start", size: 15, weight: "bold", fill: "#111" });
label(180, 1601, "MSN 3122", { anchor: "start", size: 15, weight: "bold", fill: "#111" });
label(297, 1601, "FLIGHT", { anchor: "start", size: 15, weight: "bold", fill: "#111" });
label(386, 1601, "No 9002", { anchor: "start", size: 15, weight: "bold", fill: "#111" });
label(19, 1674, "WGT (LBS)", { anchor: "start", size: 13, fill: "#333" });
label(105, 1674, "105720", { anchor: "start", size: 13, fill: "#333" });
label(19, 1689, "WGT (KG)", { anchor: "start", size: 13, fill: "#333" });
label(98, 1689, "47954", { anchor: "start", size: 13, fill: "#333" });
label(658, 1677, "DESCENT (LATERAL AXIS)", { size: 27, weight: "bold", fill: "#111", family: '"DejaVu Sans", sans-serif', len: 391 });
label(13, 1711, "/workgroup/operation/dfdr/visage/Baptiste/A319/MSN3122/descent-lat-ceoneo.ilv", { anchor: "start", size: 14, fill: "#222", len: 643 });

// company block
const logo = svg.append("g").attr("transform", "translate(1019,1608)");
logo.append("circle").attr("r", 21).attr("fill", "#2b5fa3");
logo.append("circle").attr("r", 18).attr("fill", "none").attr("stroke", "#d6e2f0").attr("stroke-width", 1.2);
["M-14,-6 Q-2,-16 12,-8", "M-15,2 Q0,-10 15,0", "M-12,9 Q2,-2 14,8", "M-6,14 Q6,6 10,14", "M-10,-12 Q2,-18 8,-15"].forEach(p =>
  logo.append("path").attr("d", p).attr("fill", "none").attr("stroke", "#e8f0f8").attr("stroke-width", 2.4));
label(1028, 1653, "AIRBUS", { size: 21, weight: "bold", fill: "#1d4f9c", len: 93 });
svg.append("text").attr("transform", "translate(958,1633) rotate(-90)").attr("text-anchor", "middle").attr("dy", "0.35em")
  .attr("font-family", '"Liberation Serif", serif').attr("font-weight", "bold").attr("font-size", 12.5).attr("fill", "#333").text("© Airbus");
label(1229, 1607, "Flight And", { anchor: "end", size: 20, weight: "bold", fill: "#e00000", family: '"Liberation Serif", serif' });
label(1229, 1634, "Integration", { anchor: "end", size: 20, weight: "bold", fill: "#e00000", family: '"Liberation Serif", serif' });
label(1229, 1660, "Tests Centre", { anchor: "end", size: 20, weight: "bold", fill: "#e00000", family: '"Liberation Serif", serif' });
label(947, 1690, "Edited : 4/1/2023", { anchor: "start", size: 13, fill: "#333" });
label(1132, 1690, "Figure", { anchor: "start", size: 13, fill: "#333" });
label(1174, 1709, "1.3.2", { size: 13, fill: "#333" });
</script>
</body>
</html>
